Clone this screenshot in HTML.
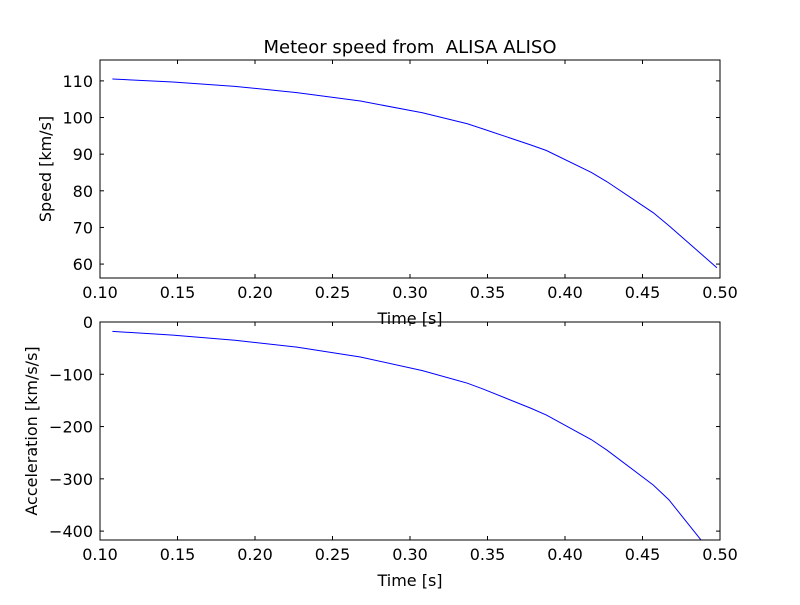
<!DOCTYPE html>
<html><head><meta charset="utf-8"><style>body{margin:0;background:#fff}svg{font-family:"DejaVu Sans","Liberation Sans",sans-serif}</style></head>
<body>
<svg id="c" width="800" height="600"></svg>
<script>
const times=[0.108,0.147,0.187,0.227,0.268,0.308,0.337,0.347,0.378,0.388,0.417,0.427,0.457,0.467,0.498];
const speeds=[110.5,109.7,108.5,106.8,104.5,101.3,98.3,96.9,92.5,91,85,82.5,74,70.5,59];
const accels=[-18,-25,-35,-48,-67,-93,-117,-128,-165,-178,-225,-245,-312,-340,-455];
const xTicks=[0.10,0.15,0.20,0.25,0.30,0.35,0.40,0.45,0.50];
const speedTicks=[60,70,80,90,100,110];
const accelTicks=[0,-100,-200,-300,-400];
const NS="http://www.w3.org/2000/svg";
const svg=document.getElementById('c');
function mk(t,a,p){const e=document.createElementNS(NS,t);for(const k in a)e.setAttribute(k,a[k]);(p||svg).appendChild(e);return e;}
function panel(name,top,bottom,ymin,ymax,yt,ys,ylabel,yfmt,clipId){
  const L=100,R=720;
  const x=v=>L+(v-0.10)/0.40*(R-L);
  const y=v=>bottom-(v-ymin)/(ymax-ymin)*(bottom-top);
  const g=mk('g',{});
  
  
  const cp=mk('clipPath',{id:clipId},g);mk('rect',{x:L,y:top,width:R-L,height:bottom-top},cp);
  const pts=times.map((t,i)=>x(t)+','+y(ys[i])).join(' ');
  const line=mk('polyline',{points:pts,fill:'none',stroke:'#0000ff','stroke-width':1,'clip-path':'url(#'+clipId+')'},g);
  
  
  const fr=mk('rect',{x:L,y:top,width:R-L,height:bottom-top,fill:'none',stroke:'#000','stroke-width':1},g);
  
  
  xTicks.forEach(v=>{const px=x(v);
    mk('line',{x1:px,x2:px,y1:bottom,y2:bottom-4,stroke:'#000'},g);
    mk('line',{x1:px,x2:px,y1:top,y2:top+4,stroke:'#000'},g);
    const t=mk('text',{x:px,y:bottom+20,'text-anchor':'middle','font-size':16},g);t.textContent=v.toFixed(2);
    
    });
  yt.forEach(v=>{const py=y(v);
    mk('line',{x1:L,x2:L+4,y1:py,y2:py,stroke:'#000'},g);
    mk('line',{x1:R,x2:R-4,y1:py,y2:py,stroke:'#000'},g);
    const t=mk('text',{x:L-7,y:py+6,'text-anchor':'end','font-size':16},g);t.textContent=yfmt(v);
    
    });
  const xl=mk('text',{x:410,y:bottom+46,'text-anchor':'middle','font-size':16},g);xl.textContent='Time [s]';
  
  
  const cy=(top+bottom)/2;
  const yl=mk('text',{x:0,y:0,'text-anchor':'middle','font-size':16,transform:'translate('+(name==='speed'?51:37)+','+cy+') rotate(-90)'},g);yl.textContent=ylabel;
  
  
}
panel('speed',60,278,56.2,115.7,speedTicks,speeds,'Speed [km/s]',v=>String(v),'c1');
panel('acceleration',322,540,-417,0,accelTicks,accels,'Acceleration [km/s/s]',v=>v<0?'\u2212'+(-v):String(v),'c2');
const ti=mk('text',{x:410,y:53,'text-anchor':'middle','font-size':18});ti.textContent='Meteor speed from  ALISA ALISO';


ti.setAttribute('xml:space','preserve');ti.style.whiteSpace='pre';
</script>
</body></html>
